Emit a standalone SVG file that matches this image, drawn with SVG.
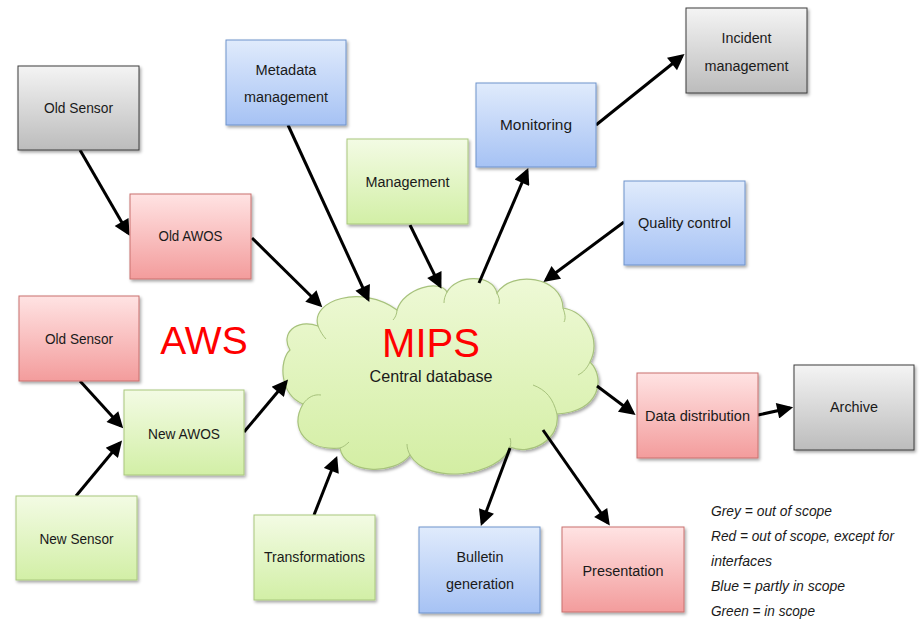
<svg xmlns="http://www.w3.org/2000/svg" width="921" height="624" viewBox="0 0 921 624">
  <defs>
    <linearGradient id="gGrey" x1="0" y1="0" x2="0" y2="1">
      <stop offset="0" stop-color="#f4f4f4"/>
      <stop offset="1" stop-color="#bcbcbc"/>
    </linearGradient>
    <linearGradient id="gRed" x1="0" y1="0" x2="0" y2="1">
      <stop offset="0" stop-color="#ffe3e3"/>
      <stop offset="1" stop-color="#f39c9c"/>
    </linearGradient>
    <linearGradient id="gBlue" x1="0" y1="0" x2="0" y2="1">
      <stop offset="0" stop-color="#e0ebfc"/>
      <stop offset="1" stop-color="#a6c2f4"/>
    </linearGradient>
    <linearGradient id="gGreen" x1="0" y1="0" x2="0" y2="1">
      <stop offset="0" stop-color="#f3fbe4"/>
      <stop offset="1" stop-color="#d2efa6"/>
    </linearGradient>
    <linearGradient id="gCloud" x1="0" y1="0" x2="0" y2="1">
      <stop offset="0" stop-color="#eef9d6"/>
      <stop offset="1" stop-color="#d3eea3"/>
    </linearGradient>
    <filter id="shadow" x="-10%" y="-10%" width="125%" height="130%">
      <feDropShadow dx="1.5" dy="2" stdDeviation="1.5" flood-color="#000" flood-opacity="0.35"/>
    </filter>
    <marker id="arrow" viewBox="0 0 10 10" refX="8" refY="5" markerWidth="19" markerHeight="16" markerUnits="userSpaceOnUse" orient="auto">
      <path d="M0,0 L10,5 L0,10 z" fill="#000"/>
    </marker>
  </defs>
  <style>
    .box { stroke-width: 1; filter: url(#shadow); }
    .grey { fill: url(#gGrey); stroke: #3c3c3c; }
    .red { fill: url(#gRed); stroke: #c9706e; }
    .blue { fill: url(#gBlue); stroke: #6f93cc; }
    .green { fill: url(#gGreen); stroke: #a9c77c; }
    .lbl { font-family: "Liberation Sans", Arial, sans-serif; font-size: 15.5px; fill: #1a1a1a; text-anchor: middle; }
    .big { font-family: "Liberation Sans", Arial, sans-serif; fill: #ff0000; text-anchor: middle; }
    .legend { font-family: "Liberation Sans", Arial, sans-serif; font-size: 15px; font-style: italic; fill: #1a1a1a; }
    .conn line { stroke: #000; stroke-width: 3; marker-end: url(#arrow); }
  </style>
  <rect width="921" height="624" fill="#ffffff"/>

  <!-- central database cloud -->
  <g id="cloud">
    <path d="M318,326 C310,300 362,284 397,310 C404,288 440,279 447,292 C456,275 492,273 497,293 C512,270 562,276 563,308 C587,312 601,340 590,362 C606,378 600,412 557,414 C561,440 530,456 510,447 C500,476 428,486 410,455 C394,476 344,474 340,448 C308,451 288,430 303,404 C279,394 279,360 290,350 C280,334 296,318 318,326 Z" fill="url(#gCloud)" stroke="#a7c27c" stroke-width="1.2" filter="url(#shadow)"/>
    <g fill="none" stroke="#a7c27c" stroke-width="1">
      <path d="M318,326 C320,331 323,336 326,339"/>
      <path d="M397,310 C397,314 395,318 393,320"/>
      <path d="M447,292 C445,296 444,299 444,303"/>
      <path d="M497,293 C499,297 500,300 499,304"/>
      <path d="M563,308 C565,314 566,318 564,322"/>
      <path d="M590,362 C587,368 584,372 578,375"/>
      <path d="M557,414 C553,398 546,390 533,385"/>
      <path d="M510,447 C511,444 511,441 510,438"/>
      <path d="M410,455 C408,451 407,448 407,444"/>
      <path d="M340,448 C343,447 346,445 349,442"/>
      <path d="M303,404 C308,397 314,394 321,395"/>
    </g>
    <text class="big" x="431" y="357" font-size="40">MIPS</text>
    <text class="lbl" x="431" y="382" style="font-size:16.5px" textLength="123" lengthAdjust="spacingAndGlyphs">Central database</text>
  </g>

  <text id="aws" class="big" x="204" y="354" font-size="39">AWS</text>

  <!-- connectors -->
  <g id="connectors" class="conn">
    <line x1="80" y1="150" x2="128" y2="233"/>
    <line x1="252" y1="238" x2="320" y2="305"/>
    <line x1="288" y1="125" x2="368" y2="299"/>
    <line x1="410" y1="225" x2="440" y2="286"/>
    <line x1="479" y1="283" x2="527" y2="171"/>
    <line x1="596" y1="125" x2="682" y2="56"/>
    <line x1="624" y1="222" x2="546" y2="280"/>
    <line x1="597" y1="386" x2="633" y2="413"/>
    <line x1="758" y1="415" x2="790" y2="408"/>
    <line x1="543" y1="430" x2="608" y2="523"/>
    <line x1="510" y1="448" x2="482" y2="523"/>
    <line x1="314" y1="515" x2="336" y2="459"/>
    <line x1="244" y1="432" x2="286" y2="382"/>
    <line x1="80" y1="381" x2="121" y2="426"/>
    <line x1="76" y1="496" x2="120" y2="443"/>
  </g>

  <!-- nodes -->
  <g id="old-sensor-grey">
    <rect class="box grey" x="18" y="66" width="121" height="84"/>
    <text class="lbl" x="78.5" y="113" textLength="69" lengthAdjust="spacingAndGlyphs">Old Sensor</text>
  </g>
  <g id="old-awos">
    <rect class="box red" x="130" y="194" width="121" height="85"/>
    <text class="lbl" x="190.5" y="241" textLength="64" lengthAdjust="spacingAndGlyphs">Old AWOS</text>
  </g>
  <g id="metadata-management">
    <rect class="box blue" x="226" y="40" width="120" height="85"/>
    <text class="lbl" x="286" y="75" textLength="61" lengthAdjust="spacingAndGlyphs">Metadata</text>
    <text class="lbl" x="286" y="102" textLength="84" lengthAdjust="spacingAndGlyphs">management</text>
  </g>
  <g id="management">
    <rect class="box green" x="347" y="139" width="121" height="85"/>
    <text class="lbl" x="407.5" y="187" textLength="84" lengthAdjust="spacingAndGlyphs">Management</text>
  </g>
  <g id="monitoring">
    <rect class="box blue" x="476" y="83" width="120" height="84"/>
    <text class="lbl" x="536" y="130" textLength="72" lengthAdjust="spacingAndGlyphs">Monitoring</text>
  </g>
  <g id="incident-management">
    <rect class="box grey" x="686" y="8" width="121" height="85"/>
    <text class="lbl" x="746.5" y="43" textLength="50" lengthAdjust="spacingAndGlyphs">Incident</text>
    <text class="lbl" x="746.5" y="71" textLength="84" lengthAdjust="spacingAndGlyphs">management</text>
  </g>
  <g id="quality-control">
    <rect class="box blue" x="624" y="181" width="121" height="84"/>
    <text class="lbl" x="684.5" y="228" textLength="93" lengthAdjust="spacingAndGlyphs">Quality control</text>
  </g>
  <g id="old-sensor-red">
    <rect class="box red" x="19" y="296" width="120" height="85"/>
    <text class="lbl" x="79" y="344" textLength="68" lengthAdjust="spacingAndGlyphs">Old Sensor</text>
  </g>
  <g id="new-awos">
    <rect class="box green" x="124" y="390" width="120" height="85"/>
    <text class="lbl" x="184" y="439" textLength="72" lengthAdjust="spacingAndGlyphs">New AWOS</text>
  </g>
  <g id="new-sensor">
    <rect class="box green" x="16" y="496" width="121" height="84"/>
    <text class="lbl" x="76.5" y="544" textLength="74" lengthAdjust="spacingAndGlyphs">New Sensor</text>
  </g>
  <g id="transformations">
    <rect class="box green" x="254" y="515" width="121" height="85"/>
    <text class="lbl" x="314.5" y="562" textLength="101" lengthAdjust="spacingAndGlyphs">Transformations</text>
  </g>
  <g id="bulletin-generation">
    <rect class="box blue" x="419" y="527" width="121" height="86"/>
    <text class="lbl" x="480" y="562" textLength="47" lengthAdjust="spacingAndGlyphs">Bulletin</text>
    <text class="lbl" x="480" y="589" textLength="68" lengthAdjust="spacingAndGlyphs">generation</text>
  </g>
  <g id="presentation">
    <rect class="box red" x="562" y="527" width="122" height="85"/>
    <text class="lbl" x="623" y="576" textLength="81" lengthAdjust="spacingAndGlyphs">Presentation</text>
  </g>
  <g id="data-distribution">
    <rect class="box red" x="637" y="373" width="121" height="85"/>
    <text class="lbl" x="697.5" y="421" textLength="105" lengthAdjust="spacingAndGlyphs">Data distribution</text>
  </g>
  <g id="archive">
    <rect class="box grey" x="794" y="365" width="120" height="85"/>
    <text class="lbl" x="854" y="412" textLength="48" lengthAdjust="spacingAndGlyphs">Archive</text>
  </g>

  <!-- colour key -->
  <g id="legend">
    <text class="legend" x="711" y="516" textLength="121" lengthAdjust="spacingAndGlyphs">Grey = out of scope</text>
    <text class="legend" x="711" y="541" textLength="183" lengthAdjust="spacingAndGlyphs">Red = out of scope, except for</text>
    <text class="legend" x="711" y="566" textLength="61" lengthAdjust="spacingAndGlyphs">interfaces</text>
    <text class="legend" x="711" y="591" textLength="134" lengthAdjust="spacingAndGlyphs">Blue = partly in scope</text>
    <text class="legend" x="711" y="616" textLength="104" lengthAdjust="spacingAndGlyphs">Green = in scope</text>
  </g>
</svg>
